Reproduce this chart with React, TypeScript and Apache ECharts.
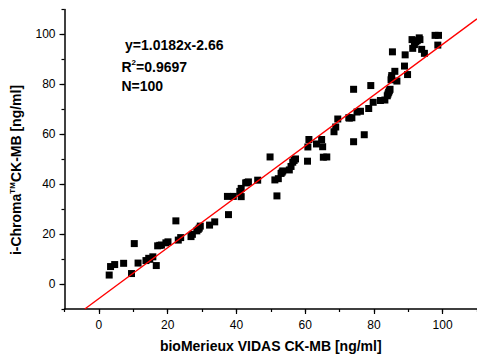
import { useEffect, useRef } from "react";
import * as echarts from "echarts";

// Measured values (bioMerieux VIDAS CK-MB vs i-Chroma CK-MB, ng/ml)
const xValues = [
  3.0, 3.4, 4.6, 7.2, 9.5, 10.3, 11.4, 13.7, 14.5, 15.7,
  16.7, 17.1, 17.7, 19.5, 20.1, 22.4, 23.1, 23.8, 26.8, 27.2,
  28.5, 29.2, 29.5, 32.2, 33.7, 37.7, 37.4, 39.1, 41.4, 41.0,
  41.4, 42.7, 43.5, 46.2, 49.8, 51.2, 51.8, 52.2, 53.0, 53.5,
  55.4, 55.9, 56.4, 57.2, 60.7, 60.8, 61.1, 63.3, 64.8, 65.1,
  65.3, 66.3, 68.4, 68.9, 69.5, 72.7, 73.6, 74.1, 74.1, 75.1,
  76.1, 77.2, 78.5, 79.1, 79.8, 81.9, 83.2, 83.9, 84.3, 84.7,
  85.0, 85.2, 86.1, 86.7, 85.4, 88.9, 89.1, 89.8, 91.3, 91.1,
  92.2, 93.4, 93.2, 91.8, 93.9, 94.7, 97.8, 98.8, 98.6, 14.8,
  18.2, 28.9, 43.1, 53.3, 56.8, 84.1, 84.5, 85.1, 92.6, 72.9,
];
const yValues = [
  3.6, 7.0, 7.8, 8.3, 4.2, 16.2, 8.4, 9.4, 10.3, 10.9,
  7.4, 15.3, 15.5, 16.5, 16.9, 25.3, 17.6, 18.6, 19.0, 19.9,
  21.3, 22.4, 23.2, 23.6, 24.9, 27.8, 35.1, 35.1, 35.0, 37.1,
  38.3, 40.5, 40.9, 41.6, 50.9, 41.7, 35.3, 42.2, 44.3, 45.3,
  45.7, 47.1, 48.8, 50.1, 49.2, 54.9, 57.9, 56.1, 57.9, 55.0,
  50.8, 50.9, 61.0, 62.9, 66.1, 66.6, 66.6, 57.0, 78.0, 68.9,
  69.2, 59.8, 70.3, 79.5, 72.8, 73.5, 73.7, 75.4, 76.8, 78.0,
  81.8, 83.5, 85.2, 81.3, 93.0, 87.3, 91.8, 83.9, 94.4, 97.9,
  97.0, 97.9, 98.6, 95.9, 94.0, 92.4, 99.6, 99.6, 95.7, 9.9,
  15.6, 21.9, 40.7, 44.8, 49.5, 76.1, 77.4, 82.6, 97.5, 66.5,
];

// Fitted line as drawn (end points)
const fitLineX = [-4.1, 110];
const fitLineY = [-10, 106.2];

// Axis ticks
const axisMin = -10;
const axisMax = 110;
const majorTicks = [0, 20, 40, 60, 80, 100];
const minorInterval = 10;

// Texts
const xTitle = "bioMerieux VIDAS CK-MB [ng/ml]";
const yTitle = "i-Chroma{sup|TM}CK-MB [ng/ml]";
const equationText = "y=1.0182x-2.66";
const r2Text = "R{sup|2}=0.9697";
const nText = "N=100";

const FONT = "'Liberation Sans', Arial, Helvetica, sans-serif";

export default function App() {
  const ref = useRef<HTMLDivElement>(null);

  useEffect(() => {
    if (!ref.current) return;
    const chart = echarts.init(ref.current, undefined, { renderer: "svg" });

    const axisLine = { show: true, onZero: false, lineStyle: { color: "#000", width: 1.5 } };
    const majorTick = { show: true, customValues: majorTicks, length: 5, lineStyle: { color: "#000", width: 1.2 } };
    const minorTick = { show: true, length: 3, lineStyle: { color: "#000", width: 1.2 } };
    const labelStyle = { customValues: majorTicks, color: "#000", fontSize: 12, fontFamily: FONT };

    const option: any = {
      animation: false,
      backgroundColor: "#fff",
      grid: { left: 64.5, top: 9.4, width: 414.3, height: 303.9, containLabel: false },
      xAxis: [
        {
          type: "value",
          min: axisMin,
          max: axisMax,
          position: "bottom",
          axisLine,
          axisTick: majorTick,
          axisLabel: { ...labelStyle, margin: 10 },
          splitLine: { show: false },
          name: xTitle,
          nameLocation: "middle",
          nameGap: 30,
          nameTextStyle: { fontSize: 14, fontWeight: "bold", color: "#000", fontFamily: FONT },
        },
        {
          type: "value",
          min: axisMin,
          max: axisMax,
          interval: minorInterval,
          position: "bottom",
          offset: 0,
          axisLine: { show: false, onZero: false },
          axisTick: minorTick,
          axisLabel: { show: false },
          splitLine: { show: false },
        },
      ],
      yAxis: [
        {
          type: "value",
          min: axisMin,
          max: axisMax,
          position: "left",
          axisLine,
          axisTick: majorTick,
          axisLabel: { ...labelStyle, margin: 9 },
          splitLine: { show: false },
        },
        {
          type: "value",
          min: axisMin,
          max: axisMax,
          interval: minorInterval,
          position: "left",
          offset: 0,
          axisLine: { show: false, onZero: false },
          axisTick: minorTick,
          axisLabel: { show: false },
          splitLine: { show: false },
        },
      ],
      series: [
        {
          type: "scatter",
          xAxisIndex: 0,
          yAxisIndex: 0,
          symbol: "rect",
          symbolSize: 7,
          itemStyle: { color: "#000", opacity: 1 },
          data: xValues.map((x, i) => [x, yValues[i]]),
          z: 2,
        },
        {
          type: "line",
          xAxisIndex: 0,
          yAxisIndex: 0,
          showSymbol: false,
          symbol: "none",
          lineStyle: { color: "#ff0000", width: 1.4 },
          data: fitLineX.map((x, i) => [x, fitLineY[i]]),
          z: 3,
        },
      ],
      graphic: [
        {
          type: "text",
          x: 16,
          y: 170,
          rotation: Math.PI / 2,
          style: {
            text: yTitle,
            fontSize: 14,
            fontWeight: "bold",
            fontFamily: FONT,
            fill: "#000",
            lineHeight: 16,
            textAlign: "center",
            textVerticalAlign: "middle",
            align: "center",
            verticalAlign: "middle",
            rich: {
              sup: { fontSize: 8, fontWeight: "bold", fontFamily: FONT, fill: "#000", verticalAlign: "top", lineHeight: 9 },
            },
          },
        },
        {
          type: "text",
          x: 125,
          y: 45,
          style: {
            text: equationText,
            fontSize: 14,
            fontWeight: "bold",
            fontFamily: FONT,
            fill: "#000",
            textAlign: "left",
            textVerticalAlign: "middle",
            align: "left",
            verticalAlign: "middle",
          },
        },
        {
          type: "text",
          x: 121.5,
          y: 66.5,
          style: {
            text: r2Text,
            fontSize: 14,
            fontWeight: "bold",
            fontFamily: FONT,
            fill: "#000",
            lineHeight: 16,
            textAlign: "left",
            textVerticalAlign: "middle",
            align: "left",
            verticalAlign: "middle",
            rich: {
              sup: { fontSize: 8, fontWeight: "bold", fontFamily: FONT, fill: "#000", verticalAlign: "top", lineHeight: 9 },
            },
          },
        },
        {
          type: "text",
          x: 121.5,
          y: 85.5,
          style: {
            text: nText,
            fontSize: 14,
            fontWeight: "bold",
            fontFamily: FONT,
            fill: "#000",
            textAlign: "left",
            textVerticalAlign: "middle",
            align: "left",
            verticalAlign: "middle",
          },
        },
      ],
    };

    chart.setOption(option);
    return () => chart.dispose();
  }, []);

  return (
    <div
      ref={ref}
      style={{ position: "fixed", left: 0, top: 0, width: 477, height: 358, background: "#fff" }}
    />
  );
}
